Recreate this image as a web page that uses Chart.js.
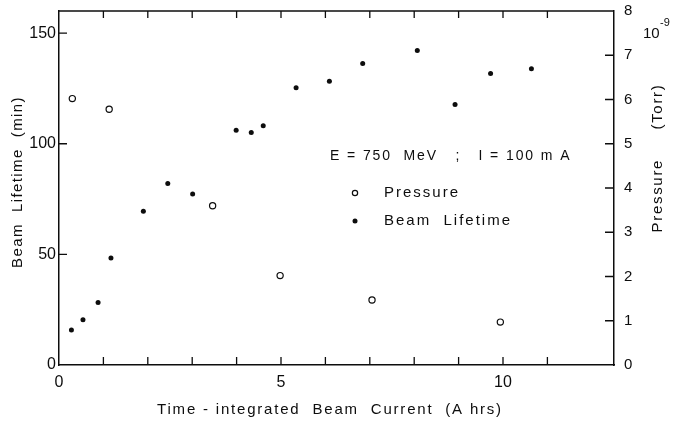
<!DOCTYPE html>
<html><head><meta charset="utf-8">
<script src="https://cdn.jsdelivr.net/npm/chart.js@4"></script>
<style>html,body{margin:0;padding:0;background:#fff}#wrap{width:679px;height:421px}</style>
</head><body><div id="wrap"><canvas id="c" width="679" height="421"></canvas></div>
<script>
// Data
const lifetimeX   = [0.28, 0.54, 0.88, 1.17, 1.90, 2.45, 3.01, 3.99, 4.33, 4.60, 5.34, 6.09, 6.84, 8.07, 8.92, 9.72, 10.64];
const lifetimeMin = [15.8, 20.4, 28.2, 48.4, 69.5, 82.0, 77.3, 106.1, 105.1, 108.1, 125.3, 128.2, 136.3, 142.2, 117.7, 131.8, 133.9];
const pressureX   = [0.30, 1.13, 3.46, 4.98, 7.05, 9.94];
const pressureVal = [6.02, 5.78, 3.60, 2.02, 1.47, 0.97];   // units of 1e-9 Torr
const xLabeledTicks = [0, 5, 10];
const lifetimeTicks = [0, 50, 100, 150];
const pressureTicks = [0, 1, 2, 3, 4, 5, 6, 7, 8];
const xTitle = 'Time - integrated  Beam  Current  (A hrs)';
const yTitle = 'Beam  Lifetime  (min)';
const y2Title = 'Pressure     (Torr)';
const noteText = 'E = 750  MeV   ;   I = 100 m A';
const legendPressure = 'Pressure';
const legendLifetime = 'Beam  Lifetime';

const INK = '#0d0d0d';
const FONT = '"Liberation Sans", Arial, sans-serif';

const toPts = (xs, ys) => xs.map((x, i) => ({x: x, y: ys[i]}));

const decor = {
  id: 'decor',
  afterDraw(chart) {
    const ctx = chart.ctx;
    const a = chart.chartArea;
    const sx = chart.scales.x, sy = chart.scales.y, sy2 = chart.scales.y2;
    ctx.save();
    ctx.strokeStyle = INK;
    ctx.lineWidth = 1.5;
    // top frame line
    ctx.beginPath();
    ctx.moveTo(a.left, a.top); ctx.lineTo(a.right, a.top);
    ctx.stroke();
    // inward ticks
    ctx.lineWidth = 1.3;
    ctx.beginPath();
    sx.ticks.forEach(t => {
      if (!Number.isInteger(t.value) || t.value === 0) return;
      const px = sx.getPixelForValue(t.value);
      ctx.moveTo(px, a.bottom); ctx.lineTo(px, a.bottom - 8);
      ctx.moveTo(px, a.top); ctx.lineTo(px, a.top + 7);
    });
    lifetimeTicks.forEach(v => {
      if (v === 0) return;
      const py = sy.getPixelForValue(v);
      ctx.moveTo(a.left, py); ctx.lineTo(a.left + 8, py);
    });
    pressureTicks.forEach(v => {
      if (v === 0 || v === 8) return;
      const py = sy2.getPixelForValue(v);
      ctx.moveTo(a.right, py); ctx.lineTo(a.right - 9, py);
    });
    ctx.stroke();

    // text
    ctx.fillStyle = INK;
    ctx.textBaseline = 'middle';
    // x title
    ctx.letterSpacing = '1.8px';
    ctx.font = '15px ' + FONT;
    ctx.textAlign = 'center';
    ctx.fillText(xTitle, 330, 410);
    // left title
    ctx.letterSpacing = '1.4px';
    ctx.save();
    ctx.translate(18, 182);
    ctx.rotate(-Math.PI / 2);
    ctx.fillText(yTitle, 0, 0);
    ctx.restore();
    // right title (reads bottom to top)
    ctx.letterSpacing = '1.7px';
    ctx.save();
    ctx.translate(658, 158);
    ctx.rotate(-Math.PI / 2);
    ctx.fillText(y2Title, 0, 0);
    ctx.restore();
    // exponent
    ctx.letterSpacing = '0px';
    ctx.textAlign = 'left';
    ctx.font = '15px ' + FONT;
    ctx.fillText('10', 643, 34);
    ctx.font = '11px ' + FONT;
    ctx.fillText('-9', 660, 23);

    // annotation + legend
    ctx.letterSpacing = '1.9px';
    ctx.font = '14px ' + FONT;
    ctx.textAlign = 'left';
    ctx.fillText(noteText, 330, 156);
    ctx.letterSpacing = '2px';
    ctx.font = '15px ' + FONT;
    ctx.fillText(legendPressure, 384, 193);
    ctx.fillText(legendLifetime, 384, 221);
    const dsP = chart.data.datasets[1], dsL = chart.data.datasets[0];
    ctx.lineWidth = dsP.borderWidth;
    ctx.strokeStyle = dsP.borderColor;
    ctx.fillStyle = '#fff';
    ctx.beginPath(); ctx.arc(355, 193, dsP.pointRadius * 0.85, 0, Math.PI * 2); ctx.fill(); ctx.stroke();
    ctx.fillStyle = dsL.backgroundColor;
    ctx.beginPath(); ctx.arc(355, 221, dsL.pointRadius, 0, Math.PI * 2); ctx.fill();
    ctx.restore();
  }
};

const noPad = s => { s.paddingTop = 0; s.paddingBottom = 0; };

new Chart(document.getElementById('c'), {
  type: 'scatter',
  data: {
    datasets: [
      { label: 'Beam Lifetime', data: toPts(lifetimeX, lifetimeMin), yAxisID: 'y',
        backgroundColor: INK, borderColor: INK, pointRadius: 2.5, borderWidth: 0, pointHoverRadius: 2.5 },
      { label: 'Pressure', data: toPts(pressureX, pressureVal), yAxisID: 'y2',
        backgroundColor: '#fff', borderColor: INK, pointRadius: 3.1, borderWidth: 1.2, pointHoverRadius: 3.1 }
    ]
  },
  options: {
    responsive: false,
    animation: false,
    events: [],
    layout: { padding: { top: 11, left: 0, right: 0, bottom: 0 } },
    plugins: { legend: { display: false }, tooltip: { enabled: false }, title: { display: false } },
    scales: {
      x: {
        type: 'linear', position: 'bottom', min: 0, max: 12.5,
        grid: { display: true, drawOnChartArea: false, drawTicks: false },
        border: { display: true, color: INK, width: 1.5 },
        ticks: { stepSize: 1, autoSkip: false, maxRotation: 0, padding: 8, color: INK,
          font: { family: FONT, size: 16 },
          callback: v => xLabeledTicks.includes(v) ? String(v) : '' },
        afterFit: s => { s.height = 56; s.paddingLeft = 0; s.paddingRight = 0; }
      },
      y: {
        type: 'linear', position: 'left', min: 0, max: 160,
        grid: { display: true, drawOnChartArea: false, drawTicks: false },
        border: { display: true, color: INK, width: 1.5 },
        ticks: { stepSize: 50, autoSkip: false, padding: 3, color: INK,
          font: { family: FONT, size: 16 },
          callback: v => lifetimeTicks.includes(v) ? String(v) : '' },
        afterFit: s => { s.width = 59; noPad(s); }
      },
      y2: {
        type: 'linear', position: 'right', min: 0, max: 8,
        grid: { display: true, drawOnChartArea: false, drawTicks: false },
        border: { display: true, color: INK, width: 1.5 },
        ticks: { stepSize: 1, autoSkip: false, padding: 10, color: INK,
          font: { family: FONT, size: 15 },
          callback: v => pressureTicks.includes(v) ? String(v) : '' },
        afterFit: s => { s.width = 65; noPad(s); }
      }
    }
  },
  plugins: [decor]
});
</script>
</body></html>
